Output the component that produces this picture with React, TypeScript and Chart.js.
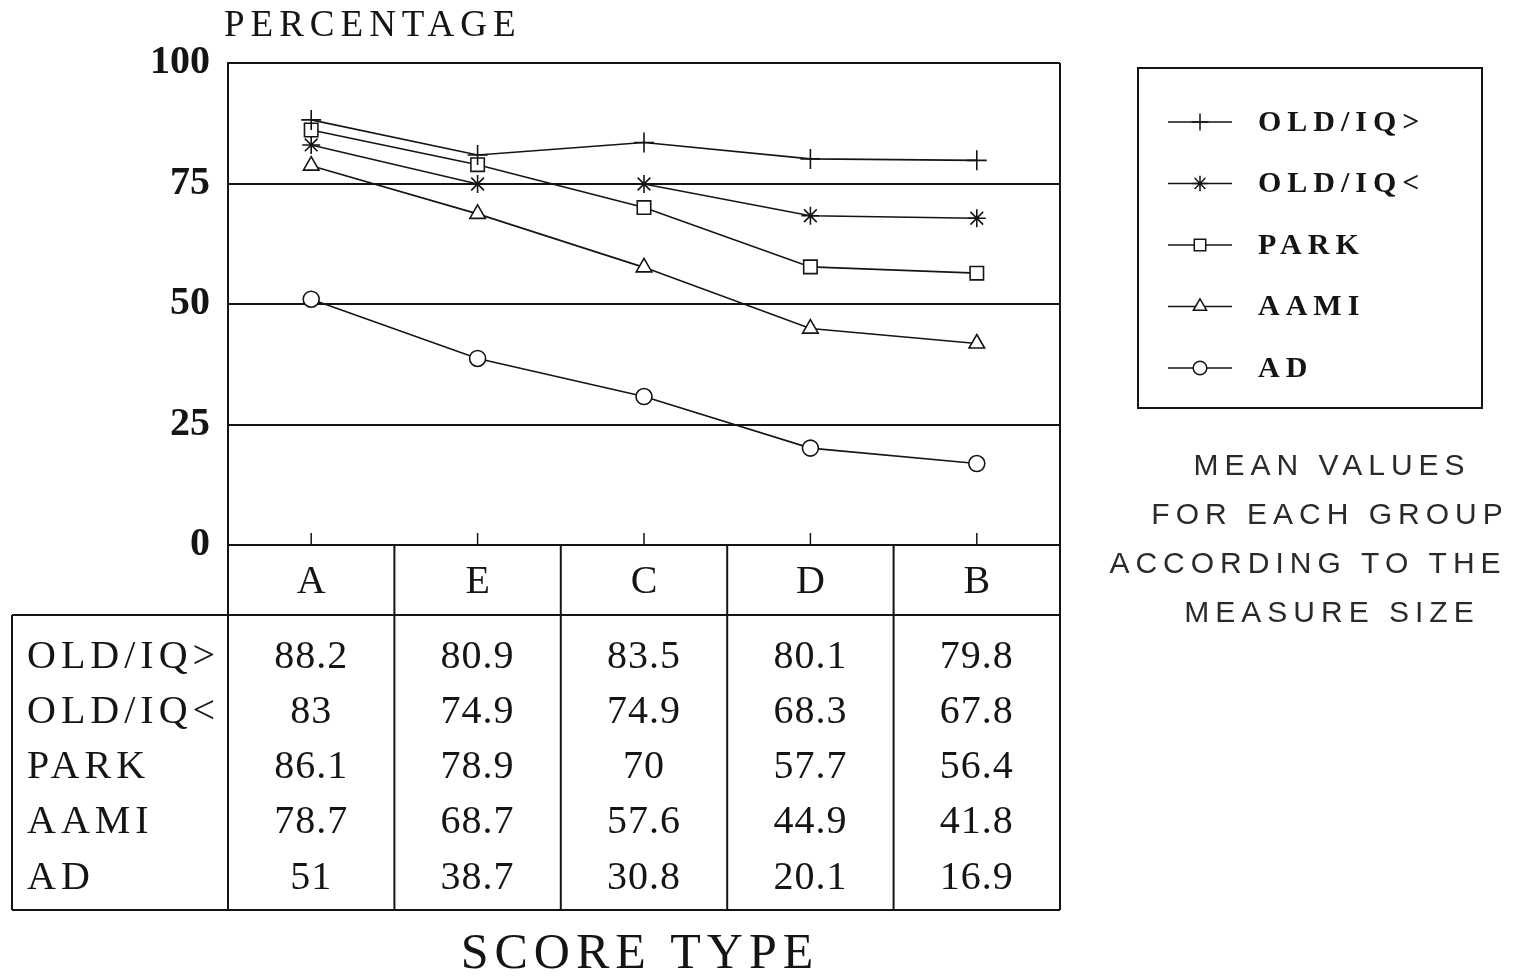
import React, { useEffect, useRef } from "react";
import { Chart, registerables } from "chart.js";
import { drawPoint } from "chart.js/helpers";

Chart.register(...registerables);

// ---- data ----
const categories = ["A", "E", "C", "D", "B"];
const seriesNames = ["OLD/IQ>", "OLD/IQ<", "PARK", "AAMI", "AD"];
const oldIqHigh = [88.2, 80.9, 83.5, 80.1, 79.8];
const oldIqLow = [83, 74.9, 74.9, 68.3, 67.8];
const park = [86.1, 78.9, 70, 57.7, 56.4];
const aami = [78.7, 68.7, 57.6, 44.9, 41.8];
const ad = [51, 38.7, 30.8, 20.1, 16.9];
const seriesValues = [oldIqHigh, oldIqLow, park, aami, ad];
const pointStyles = ["cross", "star", "rect", "triangle", "circle"];
const pointRadii = [10, 9, 9.5, 9, 8];
const yTickValues = [0, 25, 50, 75, 100];
const yTitle = "PERCENTAGE";
const xTitle = "SCORE TYPE";
const noteLines = ["MEAN VALUES", "FOR EACH GROUP", "ACCORDING TO THE", "MEASURE SIZE"];

const INK = "#151515";
const SERIF = "'Liberation Serif', 'Times New Roman', serif";
const SANS = "'Liberation Sans', Arial, sans-serif";

const overlay = {
  id: "overlay",
  afterDraw(chart: any) {
    const ctx = chart.ctx as CanvasRenderingContext2D;
    const { left, right, top, bottom } = chart.chartArea;
    const xs = chart.scales.x;
    const centers = categories.map((_, i) => xs.getPixelForValue(i));
    const tableLeft = 12;
    const headerBottom = 615;
    const tableBottom = 910;
    const rowY0 = 657;
    const rowStep = 55.3;

    const line = (x1: number, y1: number, x2: number, y2: number) => {
      ctx.beginPath();
      ctx.moveTo(x1, y1);
      ctx.lineTo(x2, y2);
      ctx.stroke();
    };

    ctx.save();
    ctx.strokeStyle = INK;
    ctx.lineWidth = 2;
    // frame
    line(right, top, right, tableBottom);
    line(left, top, left, tableBottom);
    // x ticks
    ctx.lineWidth = 1.5;
    centers.forEach((cx: number) => line(cx, bottom, cx, bottom - 12));
    ctx.lineWidth = 2;
    // table
    line(tableLeft, headerBottom, right, headerBottom);
    line(tableLeft, tableBottom, right, tableBottom);
    line(tableLeft, headerBottom, tableLeft, tableBottom);
    for (let i = 1; i < centers.length; i++) {
      const x = (centers[i - 1] + centers[i]) / 2;
      line(x, bottom, x, tableBottom);
    }

    ctx.fillStyle = INK;
    ctx.textBaseline = "middle";
    // category headers
    ctx.font = `40px ${SERIF}`;
    ctx.textAlign = "center";
    (ctx as any).letterSpacing = "0px";
    categories.forEach((c, i) => ctx.fillText(c, centers[i], 582));

    // rows
    seriesNames.forEach((name, r) => {
      const y = rowY0 + r * rowStep;
      ctx.textAlign = "left";
      ctx.font = `40px ${SERIF}`;
      (ctx as any).letterSpacing = "5px";
      ctx.fillText(name, 27, y);
      (ctx as any).letterSpacing = "1px";
      ctx.textAlign = "center";
      seriesValues[r].forEach((v, i) => ctx.fillText(String(v), centers[i], y));
    });

    // axis titles
    ctx.textAlign = "left";
    ctx.font = `37px ${SERIF}`;
    (ctx as any).letterSpacing = "6px";
    ctx.fillText(yTitle, 224, 26);
    ctx.textAlign = "center";
    ctx.font = `50px ${SERIF}`;
    (ctx as any).letterSpacing = "6px";
    ctx.fillText(xTitle, 640, 955);

    // legend
    ctx.lineWidth = 2;
    ctx.strokeRect(1138, 68, 344, 340);
    chart.data.datasets.forEach((ds: any, i: number) => {
      const y = 122 + i * 61.5;
      ctx.lineWidth = 1.5;
      ctx.strokeStyle = INK;
      line(1168, y, 1232, y);
      ctx.fillStyle = "#ffffff";
      drawPoint(
        ctx,
        {
          pointStyle: ds.pointStyle,
          radius: ds.pointRadius * 0.85,
          borderWidth: 1.5,
          rotation: 0,
        } as any,
        1200,
        y
      );
      ctx.fillStyle = INK;
      ctx.textAlign = "left";
      ctx.font = `bold 30px ${SERIF}`;
      (ctx as any).letterSpacing = "6px";
      ctx.fillText(ds.label, 1258, y + 1);
    });

    // note
    ctx.fillStyle = "#2a2a2a";
    ctx.font = `30px ${SANS}`;
    (ctx as any).letterSpacing = "6px";
    ctx.textAlign = "center";
    const noteCenters = [1332, 1330, 1308, 1332];
    noteLines.forEach((t, i) => ctx.fillText(t, noteCenters[i], 467 + i * 49));

    ctx.restore();
  },
};

export default function App() {
  const ref = useRef<HTMLCanvasElement | null>(null);

  useEffect(() => {
    if (!ref.current) return;
    const chart = new Chart(ref.current, {
      type: "line",
      data: {
        labels: categories,
        datasets: seriesNames.map((name, i) => ({
          label: name,
          data: seriesValues[i],
          borderColor: INK,
          backgroundColor: "#ffffff",
          borderWidth: 1.6,
          pointStyle: pointStyles[i] as any,
          pointRadius: pointRadii[i],
          pointBorderColor: INK,
          pointBackgroundColor: "#ffffff",
          pointBorderWidth: 1.6,
          tension: 0,
          fill: false,
        })),
      },
      options: {
        responsive: false,
        animation: false,
        events: [],
        layout: { padding: { left: 0, top: 63, right: 457, bottom: 435 } },
        plugins: {
          legend: { display: false },
          tooltip: { enabled: false },
          title: { display: false },
        },
        scales: {
          x: {
            type: "category",
            offset: true,
            display: false,
            grid: { display: false },
          },
          y: {
            min: 0,
            max: 100,
            afterFit: (scale: any) => {
              scale.width = 228;
            },
            afterBuildTicks: (scale: any) => {
              scale.ticks = yTickValues.map((v) => ({ value: v }));
            },
            border: { display: true, color: INK, width: 2 },
            grid: {
              color: INK,
              lineWidth: 2,
              drawTicks: false,
            },
            ticks: {
              padding: 18,
              color: INK,
              font: { family: SERIF, size: 40, weight: "bold" },
            },
          },
        },
      },
      plugins: [overlay],
    });
    return () => chart.destroy();
  }, []);

  return (
    <div
      style={{
        position: "fixed",
        left: 0,
        top: 0,
        width: 1517,
        height: 980,
        background: "#ffffff",
      }}
    >
      <canvas ref={ref} width={1517} height={980} style={{ display: "block" }} />
    </div>
  );
}
